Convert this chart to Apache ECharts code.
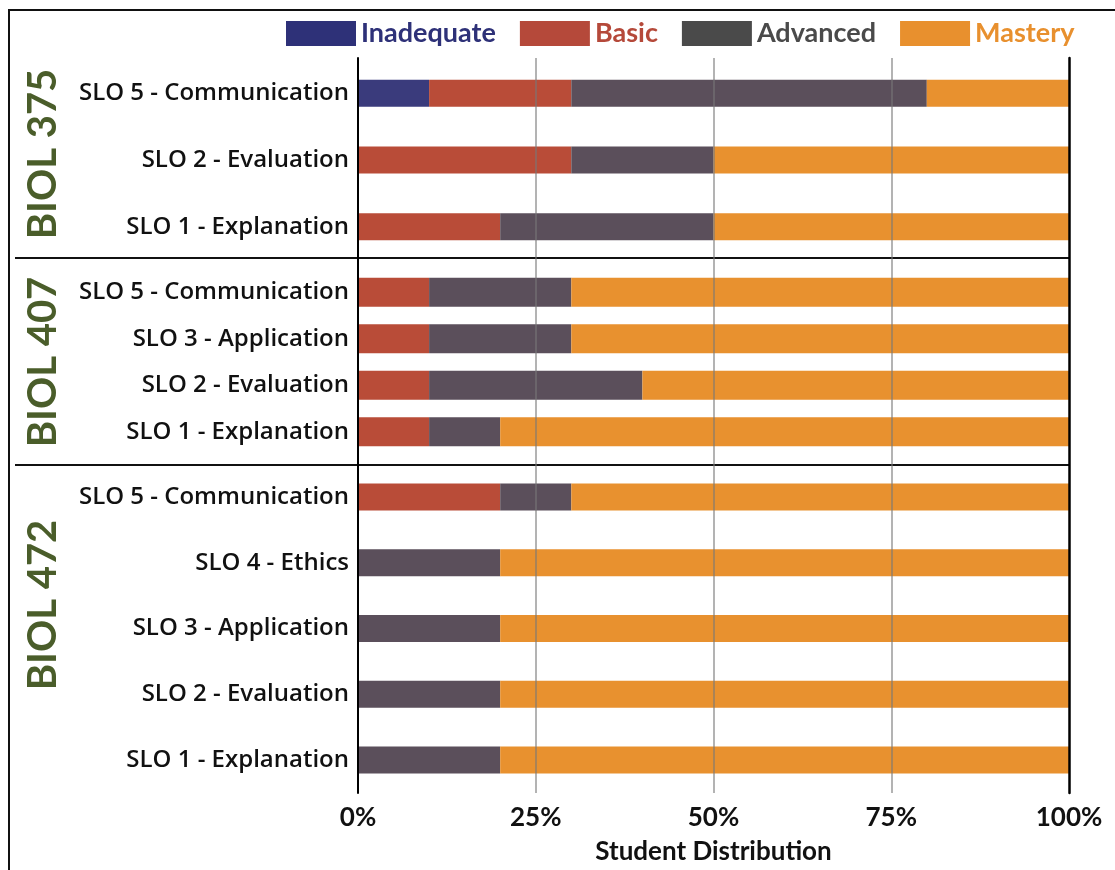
<!DOCTYPE html>
<html>
<head>
<meta charset="utf-8">
<script src="https://cdn.jsdelivr.net/npm/echarts@6/dist/echarts.min.js"></script>
<style>html,body{margin:0;padding:0;background:#fff}#c{width:1115px;height:870px}</style>
</head>
<body>
<div id="c"></div>
<script>
const levels = ['Inadequate', 'Basic', 'Advanced', 'Mastery'];
const courses = ['BIOL 375', 'BIOL 407', 'BIOL 472'];
const xTicks = [0, 25, 50, 75, 100];

const slo375 = ['SLO 5 - Communication', 'SLO 2 - Evaluation', 'SLO 1 - Explanation'];
const inadequate375 = [10, 0, 0];
const basic375 = [20, 30, 20];
const advanced375 = [50, 20, 30];
const mastery375 = [20, 50, 50];

const slo407 = ['SLO 5 - Communication', 'SLO 3 - Application', 'SLO 2 - Evaluation', 'SLO 1 - Explanation'];
const inadequate407 = [0, 0, 0, 0];
const basic407 = [10, 10, 10, 10];
const advanced407 = [20, 20, 30, 10];
const mastery407 = [70, 70, 60, 80];

const slo472 = ['SLO 5 - Communication', 'SLO 4 - Ethics', 'SLO 3 - Application', 'SLO 2 - Evaluation', 'SLO 1 - Explanation'];
const inadequate472 = [0, 0, 0, 0, 0];
const basic472 = [20, 0, 0, 0, 0];
const advanced472 = [10, 20, 20, 20, 20];
const mastery472 = [70, 80, 80, 80, 80];

const barColors = ['#3a3b7c', '#b94c38', '#5b4f5b', '#e8912f'];
const legendColors = ['#2e3178', '#b5493a', '#4a4a4a', '#e8902e'];

const groups = [
  { cats: slo375, vals: [inadequate375, basic375, advanced375, mastery375], top: 60, height: 200, bw: 27 },
  { cats: slo407, vals: [inadequate407, basic407, advanced407, mastery407], top: 269, height: 186, bw: 29 },
  { cats: slo472, vals: [inadequate472, basic472, advanced472, mastery472], top: 464, height: 329, bw: 27 }
];

const grids = [], xAxes = [], yAxes = [], series = [];
groups.forEach((g, gi) => {
  grids.push({ left: 358, right: 46, top: g.top, height: g.height, containLabel: false });
  xAxes.push({ gridIndex: gi, type: 'value', min: 0, max: 100, show: false });
  yAxes.push({
    gridIndex: gi, type: 'category', data: g.cats, inverse: true,
    axisLine: { show: false }, axisTick: { show: false }, splitLine: { show: false },
    axisLabel: { fontFamily: 'Open Sans', fontSize: 24, fontWeight: 600, color: '#111', margin: 9 }
  });
  levels.forEach((lv, li) => {
    series.push({
      name: lv, type: 'bar', stack: 'g' + gi, xAxisIndex: gi, yAxisIndex: gi,
      data: g.vals[li], barWidth: g.bw,
      itemStyle: { color: barColors[li] }, z: 2, silent: true
    });
  });
});

// overlay grid for gridlines and x-axis labels
grids.push({ left: 358, right: 46, top: 58, bottom: 77 });
xAxes.push({
  gridIndex: 3, type: 'value', min: 0, max: 100, interval: 25, z: 5,
  axisLine: { show: false }, axisTick: { show: false },
  splitLine: { show: true, showMinLine: false, showMaxLine: false, lineStyle: { color: 'rgba(120,120,120,0.75)', width: 1.5 } },
  axisLabel: { formatter: v => xTicks.includes(v) ? v + '%' : '', fontFamily: 'Lato', fontSize: 26, fontWeight: 'bold', color: '#111', margin: 12 },
  name: 'Student Distribution', nameLocation: 'middle', nameGap: 46,
  nameTextStyle: { fontFamily: 'Lato', fontSize: 26, fontWeight: 'bold', color: '#111' }
});
yAxes.push({
  gridIndex: 3, type: 'value', min: 0, max: 1, position: 'left', z: 6,
  axisLine: { show: true, lineStyle: { color: '#000', width: 2 } },
  axisTick: { show: false }, axisLabel: { show: false }, splitLine: { show: false }
});
yAxes.push({
  gridIndex: 3, type: 'value', min: 0, max: 1, position: 'right', z: 6,
  axisLine: { show: true, lineStyle: { color: '#000', width: 2.5 } },
  axisTick: { show: false }, axisLabel: { show: false }, splitLine: { show: false }
});

const groupLabelY = [154, 362, 605];
const graphics = courses.map((c, i) => ({
  type: 'text', x: 43, y: groupLabelY[i], rotation: Math.PI / 2,
  style: { text: c, fontFamily: 'Lato', fontWeight: 'bold', fontSize: 40, fill: '#4a5d2a', align: 'center', verticalAlign: 'middle' }
}));
graphics.push(
  { type: 'line', shape: { x1: 15, y1: 258, x2: 1069, y2: 258 }, style: { stroke: '#111', lineWidth: 2 } },
  { type: 'line', shape: { x1: 15, y1: 465, x2: 1069, y2: 465 }, style: { stroke: '#111', lineWidth: 2 } },
  { type: 'line', shape: { x1: 8, y1: 10, x2: 1115, y2: 10 }, style: { stroke: '#111', lineWidth: 2 } },
  { type: 'line', shape: { x1: 9, y1: 10, x2: 9, y2: 870 }, style: { stroke: '#111', lineWidth: 2 } }
);

const chart = echarts.init(document.getElementById('c'));
chart.setOption({
  animation: false,
  backgroundColor: '#fff',
  grid: grids,
  xAxis: xAxes,
  yAxis: yAxes,
  legend: {
    left: 281, top: 15, itemWidth: 70, itemHeight: 25, itemGap: 24,
    selectedMode: false,
    data: levels.map((lv, i) => ({
      name: lv, icon: 'rect',
      itemStyle: { color: legendColors[i] },
      textStyle: { color: legendColors[i], fontFamily: 'Lato', fontWeight: 'bold', fontSize: 27 }
    }))
  },
  graphic: graphics,
  series: series
});
</script>
</body>
</html>
